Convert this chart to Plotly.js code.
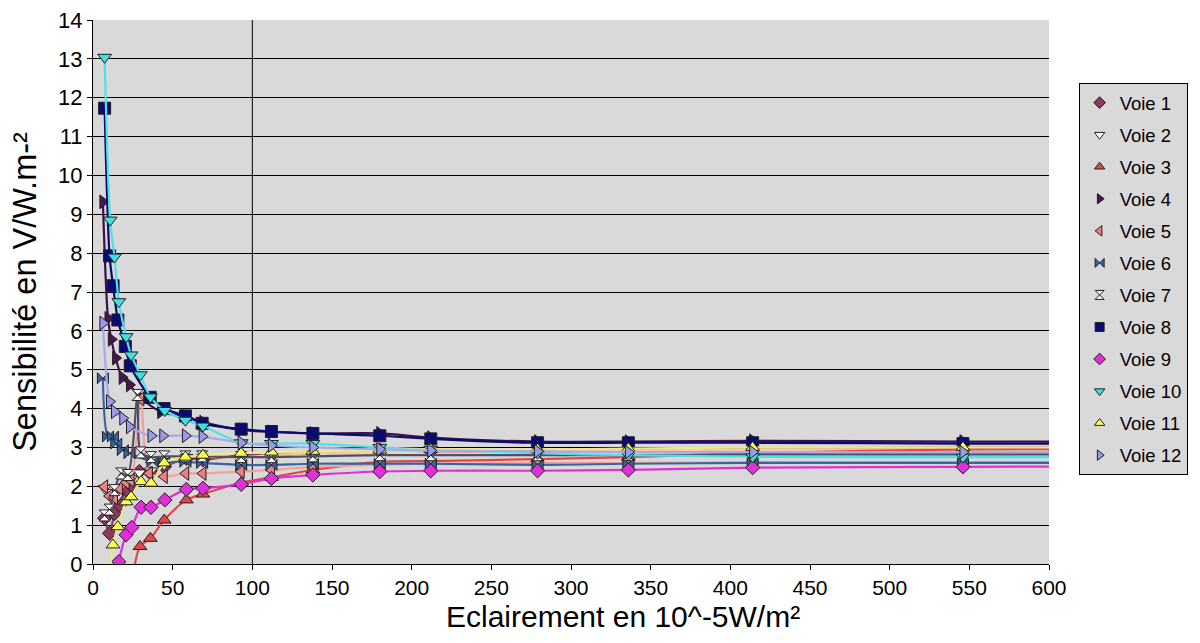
<!DOCTYPE html>
<html>
<head>
<meta charset="utf-8">
<script src="https://cdn.plot.ly/plotly-3.0.1.min.js"></script>
<style>html,body{margin:0;padding:0;background:#fff;}#chart{width:1200px;height:643px;}</style>
</head>
<body>
<div id="chart"></div>
<script>
// ---- data ----
const seriesNames = ["Voie 1","Voie 2","Voie 3","Voie 4","Voie 5","Voie 6","Voie 7","Voie 8","Voie 9","Voie 10","Voie 11","Voie 12"];

const x1 = [7.3,10.4,13.5,16.6,20.8,23.9,29.1,36.4,44.7,58.6,69,93,112,138,180,212,279,336,414,546,700];
const y1 = [1.18,0.79,1.3,1.52,1.9,2.03,2.38,2.33,2.5,2.72,2.68,2.8,2.8,2.85,2.93,2.9,2.9,2.92,2.97,3.0,3.0];

const x2 = [7.3,10.4,12.5,15.6,20.8,23.9,29.1,36.4,44.7,58.6,69,93,112,138,180,212,279,336,414,546,700];
const y2 = [1.95,1.85,1.65,1.75,2.15,2.2,2.35,2.4,2.55,2.75,2.75,2.75,2.8,2.85,2.9,2.9,2.9,2.92,2.95,2.95,2.95];

const x3 = [25,29.5,36,44.7,58.6,69,93,112,138,180,212,279,336,414,546,700];
const y3 = [-0.3,0.45,0.66,1.13,1.65,1.8,2.09,2.23,2.42,2.63,2.65,2.7,2.75,2.85,2.95,2.97];

const x4 = [6.2,9.4,11.5,14.2,18.3,22.9,29.1,42.5,58,69,93,112,138,180,212,279,336,414,546,700];
const y4 = [9.32,6.32,5.78,5.3,4.8,4.61,4.31,3.92,3.8,3.65,3.45,3.4,3.36,3.36,3.25,3.15,3.15,3.17,3.15,3.15];

const x5 = [7.3,10.4,13.5,16.6,20.8,23.9,30,35.4,44.7,58.2,69,93,112,138,180,212,279,336,414,546,700];
const y5 = [1.99,1.75,1.7,1.95,2.1,2.15,4.25,2.33,2.25,2.33,2.33,2.38,2.42,2.5,2.55,2.58,2.6,2.6,2.62,2.62,2.62];

const x6 = [6.2,9.4,12.5,14.6,18.7,22.9,37.4,44.7,58,68.5,93,112,138,180,212,279,336,414,546,700];
const y6 = [4.78,3.28,3.28,3.1,2.93,2.85,2.63,2.63,2.63,2.6,2.55,2.55,2.58,2.58,2.58,2.55,2.58,2.6,2.6,2.6];

const x7 = [7.3,10.4,13.5,17.7,21.8,28,30,36.4,44.7,58,68.5,93,112,138,180,212,279,336,414,546,700];
const y7 = [1.25,1.4,1.9,2.33,2.29,4.35,2.87,2.75,2.77,2.77,2.77,2.75,2.75,2.77,2.8,2.8,2.8,2.8,2.82,2.82,2.82];

const x8 = [7.3,10.4,12.6,15.6,20.3,23.4,35.9,44.6,58,68.5,93,112,138,180,212,279,336,414,546,700];
const y8 = [11.73,7.93,7.16,6.28,5.6,5.1,4.29,4.0,3.81,3.62,3.47,3.41,3.36,3.3,3.22,3.12,3.12,3.12,3.1,3.1];

const x9 = [16.2,20.8,24.3,30.2,36.4,45.1,58.6,69,93,112,138,180,212,279,336,414,546,700];
const y9 = [0.06,0.75,0.94,1.46,1.46,1.65,1.92,1.95,2.05,2.2,2.29,2.38,2.4,2.4,2.42,2.48,2.5,2.52];

const x10 = [7.3,10.8,13.5,16.2,20.8,23.9,29.7,36,45,58,69,93,112,138,180,212,279,336,414,546,700];
const y10 = [13.04,8.85,7.9,6.75,5.85,5.38,4.87,4.3,3.95,3.7,3.55,3.12,3.1,3.1,3.0,2.95,2.85,2.8,2.76,2.75,2.75];

const x11 = [10,12.5,15.6,20.8,23.9,30.2,36.4,44.7,58,69,93,112,138,180,212,279,336,414,546,700];
const y11 = [-0.4,0.49,0.96,1.6,1.73,2.12,2.08,2.6,2.75,2.8,2.85,2.88,2.9,2.93,2.95,2.95,2.97,3.0,3.0,3.0];

const x12 = [6.2,10.4,13.5,18.7,22.9,36.4,43.8,58,68.5,93,112,138,180,212,279,336,414,546,700];
const y12 = [6.2,4.18,3.92,3.75,3.53,3.3,3.3,3.3,3.28,3.12,3.05,3.0,2.95,2.92,2.9,2.88,2.88,2.88,2.88];

const xTickVals = [0,50,100,150,200,250,300,350,400,450,500,550,600];
const yTickVals = [0,1,2,3,4,5,6,7,8,9,10,11,12,13,14];
const markerLine = 100; // vertical reference line position on x axis
const xTitle = 'Eclairement en 10^-5W/m²';
const yTitle = 'Sensibilité en V/W.m-²';

// ---- styles ----
const xs = [x1,x2,x3,x4,x5,x6,x7,x8,x9,x10,x11,x12];
const ys = [y1,y2,y3,y4,y5,y6,y7,y8,y9,y10,y11,y12];
const symbols = ["diamond","triangle-down","triangle-up","triangle-right","triangle-left","bowtie","hourglass","square","diamond","triangle-down","triangle-up","triangle-right"];
const markerColors = ["#8a3a5a","#ffffff","#e04848","#4a1450","#f08080","#3a64a0","#ffffff","#0a0a70","#e030d8","#40e0e0","#ffff50","#9a9ae8"];
const lineColors = ["#8a3a5a","#f5c8a0","#e04848","#3a1048","#f4a0a0","#3a64a0","#505060","#0a0a70","#e030d8","#50e0e8","#f0e68c","#a8a8ec"];
const markerSizes = [11,11,12,12,12,11,11,12,11,12,12,12];

const FONT = '"Liberation Sans", Arial, sans-serif';
const traces = [];
for (let i = 0; i < 12; i++) {
  traces.push({
    x: xs[i], y: ys[i], type: 'scatter', mode: 'lines+markers',
    name: seriesNames[i], showlegend: false, cliponaxis: true,
    line: {color: lineColors[i], width: 2.2, shape: 'spline', smoothing: 0.8},
    marker: {symbol: symbols[i], size: markerSizes[i], color: markerColors[i],
             line: {color: '#202020', width: 1}}
  });
}
for (let i = 0; i < 12; i++) {
  traces.push({
    x: [null], y: [null], type: 'scatter', mode: 'markers',
    name: seriesNames[i], legendgroup: 'g' + i, showlegend: true,
    marker: {symbol: symbols[i], size: 9, color: markerColors[i],
             line: {color: '#202020', width: 1}}
  });
}

const layout = {
  width: 1200, height: 643,
  margin: {l: 93, r: 145, t: 20, b: 79},
  paper_bgcolor: '#ffffff',
  plot_bgcolor: '#d9d9d9',
  font: {family: FONT, color: '#000', size: 22},
  showlegend: true,
  xaxis: {
    range: [0, 600], tickvals: xTickVals, ticks: 'outside', ticklen: 5, tickcolor: '#000',
    showline: true, linecolor: '#000', linewidth: 1, showgrid: false, zeroline: false,
    tickfont: {family: FONT, size: 21, color: '#000'}
  },
  yaxis: {
    range: [0, 14], tickvals: yTickVals, ticks: 'outside', ticklen: 5, tickcolor: '#000',
    showline: true, linecolor: '#000', linewidth: 1, showgrid: true, gridcolor: '#000', gridwidth: 1,
    zeroline: false,
    tickfont: {family: FONT, size: 22, color: '#000'},
    title: {text: yTitle, font: {family: FONT, size: 32.5, color: '#000'}, standoff: 11}
  },
  annotations: [{
    text: xTitle, xref: 'paper', yref: 'paper', x: 0.554, y: -0.0956,
    xanchor: 'center', yanchor: 'middle', showarrow: false,
    font: {family: FONT, size: 30, color: '#000'}
  }],
  shapes: [{type: 'line', xref: 'x', yref: 'paper', x0: markerLine, x1: markerLine, y0: 0, y1: 1,
            line: {color: '#000', width: 1}, layer: 'below'}],
  legend: {
    x: 1.031, y: 0.884, xanchor: 'left', yanchor: 'top',
    bgcolor: '#d9d9d9', bordercolor: '#000', borderwidth: 1,
    font: {family: FONT, size: 18.5, color: '#000'},
    traceorder: 'grouped', tracegroupgap: 5.0, itemwidth: 30
  }
};

Plotly.newPlot('chart', traces, layout, {displayModeBar: false, staticPlot: true});
</script>
</body>
</html>
